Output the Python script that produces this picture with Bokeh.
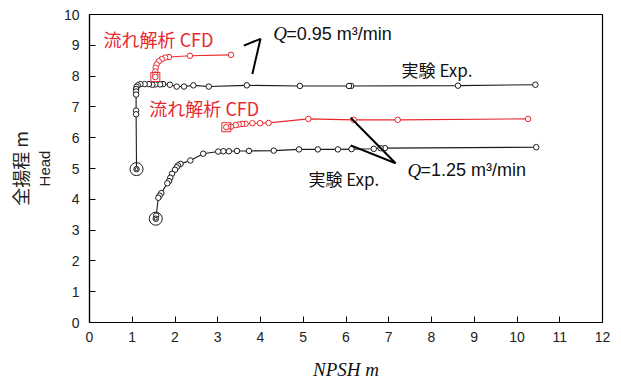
from bokeh.plotting import figure
from bokeh.models import Range1d, Label, FixedTicker, LinearAxis
from bokeh.embed import file_html
from bokeh.resources import INLINE

# ---- data ----
exp095_npsh = [10.43, 8.62, 6.12, 6.07, 4.92, 3.68, 2.79, 2.43, 2.21, 2.04, 1.88, 1.72, 1.65,
               1.54, 1.47, 1.39, 1.29, 1.19, 1.13, 1.10, 1.09, 1.09, 1.09, 1.09, 1.09, 1.10]
exp095_head = [7.72, 7.69, 7.68, 7.68, 7.68, 7.70, 7.66, 7.70, 7.66, 7.66, 7.72, 7.74, 7.73,
               7.73, 7.72, 7.74, 7.74, 7.74, 7.70, 7.65, 7.58, 7.50, 7.40, 6.88, 6.76, 4.98]

cfd095_npsh = [3.31, 2.35, 1.86, 1.77, 1.69, 1.62, 1.57, 1.55, 1.54, 1.54, 1.54]
cfd095_head = [8.69, 8.66, 8.62, 8.60, 8.55, 8.48, 8.38, 8.27, 8.15, 8.05, 7.97]

exp125_npsh = [10.45, 6.91, 6.81, 6.65, 6.13, 5.81, 5.34, 4.90, 4.31, 3.73, 3.45, 3.26, 3.13,
               3.01, 2.66, 2.36, 2.13, 2.07, 2.04, 2.00, 1.93, 1.89, 1.86, 1.82, 1.68, 1.64,
               1.61, 1.56, 1.55]
exp125_head = [5.69, 5.66, 5.66, 5.64, 5.63, 5.62, 5.62, 5.62, 5.58, 5.57, 5.57, 5.56, 5.56,
               5.55, 5.48, 5.26, 5.15, 5.10, 5.04, 4.96, 4.83, 4.70, 4.59, 4.52, 4.20, 4.12,
               4.05, 3.47, 3.37]

cfd125_npsh = [10.26, 7.21, 6.18, 5.12, 4.19, 3.99, 3.81, 3.65, 3.57, 3.49, 3.42, 3.31, 3.20]
cfd125_head = [6.61, 6.58, 6.58, 6.61, 6.48, 6.47, 6.47, 6.45, 6.45, 6.43, 6.41, 6.36, 6.34]

x_ticks = list(range(0, 13))
y_ticks = list(range(0, 11))

RED = "#e8282e"
LINE = "#1a1a1a"
JP = "Noto Sans CJK JP"
SANS = "Liberation Sans"
SERIF = "Liberation Serif"

p = figure(width=621, height=385, output_backend="svg", toolbar_location=None,
           x_range=Range1d(0, 12), y_range=Range1d(0, 10),
           min_border_left=89, min_border_right=19, min_border_top=14, min_border_bottom=63)
p.grid.visible = False
p.outline_line_color = "black"
p.outline_line_width = 1.2
p.background_fill_color = "white"
p.border_fill_color = "white"

for ax, ticks in ((p.xaxis[0], x_ticks), (p.yaxis[0], y_ticks)):
    ax.ticker = FixedTicker(ticks=ticks)
    ax.major_tick_in = 6
    ax.major_tick_out = 0
    ax.minor_tick_line_color = None
    ax.axis_line_color = "black"
    ax.axis_line_width = 1.2
    ax.major_tick_line_color = "black"
    ax.major_label_text_font = SANS
    ax.major_label_text_font_size = "14px"
    ax.major_label_text_color = "#222222"
p.xaxis.major_label_standoff = 9
p.yaxis.major_label_standoff = 10

# x title
p.xaxis.axis_label = "NPSH m"
p.xaxis.axis_label_text_font = SERIF
p.xaxis.axis_label_text_font_size = "19px"
p.xaxis.axis_label_text_font_style = "italic"
p.xaxis.axis_label_text_color = "#111111"
p.xaxis.axis_label_standoff = 14

# inner y title "Head" on the main axis
p.yaxis.axis_label = "Head"
p.yaxis.axis_label_text_font = SANS
p.yaxis.axis_label_text_font_size = "15px"
p.yaxis.axis_label_text_font_style = "normal"
p.yaxis.axis_label_text_color = "#222222"
p.yaxis.axis_label_standoff = 8

# outer y title "全揚程 m" on an extra, otherwise invisible axis
outer = LinearAxis(axis_label="全揚程 m", axis_label_text_font=JP,
                   axis_label_text_font_size="18px", axis_label_text_font_style="normal",
                   axis_label_text_color="#222222", axis_label_standoff=0,
                   major_tick_line_color=None, minor_tick_line_color=None,
                   major_label_text_font_size="0px", axis_line_color=None,
                   major_tick_in=0, major_tick_out=0, major_label_standoff=0,
                   ticker=FixedTicker(ticks=[]))
p.add_layout(outer, "left")

# ---- series ----
def series(xs, ys, color, marker_size=5.5):
    p.line(xs, ys, line_color=color, line_width=1.1)
    p.scatter(xs, ys, marker="circle", size=marker_size, line_color=color,
              fill_color="white", line_width=1.0)

series(exp095_npsh, exp095_head, LINE)
series(exp125_npsh, exp125_head, LINE)
series(cfd095_npsh, cfd095_head, RED)
series(cfd125_npsh, cfd125_head, RED)

# breakdown markers (last point of each series)
p.scatter([exp095_npsh[-1], exp125_npsh[-1]], [exp095_head[-1], exp125_head[-1]],
          marker="circle", size=13, line_color=LINE, fill_color=None, line_width=1.0)
p.scatter([exp095_npsh[-1], exp125_npsh[-1]], [exp095_head[-1], exp125_head[-1]],
          marker="circle", size=3, line_color=LINE, fill_color=None, line_width=1.0)
p.scatter([cfd095_npsh[-1], cfd125_npsh[-1]], [cfd095_head[-1], cfd125_head[-1]],
          marker="square", size=9, line_color=RED, fill_color=None, line_width=1.0)

# pointer strokes
p.line([3.61, 4.00, 3.81], [8.99, 9.21, 8.07], line_color="black", line_width=2)
p.line([6.11, 7.16], [6.65, 5.17], line_color="black", line_width=2)
p.line([6.11, 7.16], [5.75, 5.17], line_color="black", line_width=2)

# ---- annotations ----
def lab(x, y, text, font, size, color="#111111", style="normal", x_offset=0):
    p.add_layout(Label(x=x, y=y, text=text, text_font=font, text_font_size=size,
                       text_color=color, text_font_style=style, x_offset=x_offset,
                       text_align="left", text_baseline="middle"))

lab(0.33, 9.19, "流れ解析 CFD", JP, "18px", RED)
lab(1.40, 6.95, "流れ解析 CFD", JP, "18px", RED)
lab(7.30, 8.21, "実験 Exp.", JP, "17px")
lab(5.12, 4.68, "実験 Exp.", JP, "17px")

lab(4.30, 9.38, "Q", SERIF, "19px", style="italic")
lab(4.30, 9.38, "=0.95 m³/min", SANS, "18px", x_offset=13)
lab(7.44, 4.94, "Q", SERIF, "19px", style="italic")
lab(7.44, 4.94, "=1.25 m³/min", SANS, "18px", x_offset=13)

open("out.html", "w").write(file_html(p, INLINE))
